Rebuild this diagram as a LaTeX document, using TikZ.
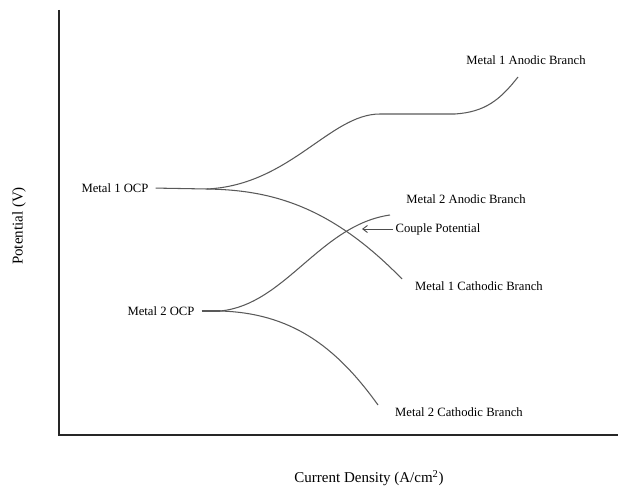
\documentclass[tikz,border=0pt]{standalone}
\usepackage{fontspec}
\setmainfont{Liberation Serif}
\usetikzlibrary{arrows.meta}

\begin{document}
\begin{tikzpicture}[x=0.03cm,y=-0.03cm,
    axisline/.style={line width=1.2pt, black!85},
    branch/.style={line width=0.9pt, black!65},
    lbl/.style={font=\fontsize{10.8}{12}\selectfont, inner sep=2pt},
    axislbl/.style={font=\fontsize{12.8}{14}\selectfont, inner sep=0pt},
    pointer/.style={line width=0.8pt, black!70, -{Straight Barb[length=4pt,width=6pt]}}]

    \useasboundingbox (0,0) rectangle (618,489);

    % --- Axes ---
    \coordinate (top) at (59,10);
    \coordinate (orig) at (59,435);
    \coordinate (right) at (618,435);
    \draw[axisline] (top) -- (orig) -- (right);

    \node[axislbl, rotate=90] (ylbl) at (19,226) {Potential (V)};
    \node[axislbl] (xlbl) at (369,478) {Current Density (A/cm\textsuperscript{2})};

    % --- Coordinates ---
    % OCP points, where each pair of branches starts
    \coordinate (m1ocp) at (207,189);
    \coordinate (m2ocp) at (220,311);
    % ends of the branches
    \coordinate (m1a) at (518,77);
    \coordinate (m1c) at (402,279);
    \coordinate (m2a) at (390,215);
    \coordinate (m2c) at (378,405);
    % tip of the couple potential arrow
    \coordinate (cplpt) at (362,229);

    % --- Labels ---
    \node[lbl] (m1lbl) at (115,188) {Metal 1 OCP};
    \node[lbl] (m2lbl) at (161,311) {Metal 2 OCP};
    \node[lbl] (m1albl) at (526,60) {Metal 1 Anodic Branch};
    \node[lbl] (m2albl) at (466,199) {Metal 2 Anodic Branch};
    \node[lbl] (cpl) at (438,229) {Couple Potential};
    \node[lbl] (m1clbl) at (479,286) {Metal 1 Cathodic Branch};
    \node[lbl] (m2clbl) at (459,412) {Metal 2 Cathodic Branch};

    % --- OCP lines ---
    \draw[branch, shorten <=4pt] (m1lbl.east) -- (m1ocp);
    \draw[branch, shorten <=4pt] (m2lbl.east) -- (m2ocp);

    % --- Branches ---
    % Metal 1 anodic: rise, plateau, rise again
    \draw[branch] (m1ocp) .. controls (290,185) and (330,114) .. (380,114)
        -- (455,114) .. controls (485,112) and (500,100) .. (m1a);
    % Metal 1 cathodic
    \draw[branch] (m1ocp) .. controls (270,190) and (330,205) .. (m1c);
    % Metal 2 anodic
    \draw[branch] (m2ocp) .. controls (285,305) and (320,225) .. (m2a);
    % Metal 2 cathodic
    \draw[branch] (m2ocp) .. controls (290,313) and (335,345) .. (m2c);

    % --- Couple potential ---
    \draw[pointer] (cpl.west) -- (cplpt);

\end{tikzpicture}
\end{document}
